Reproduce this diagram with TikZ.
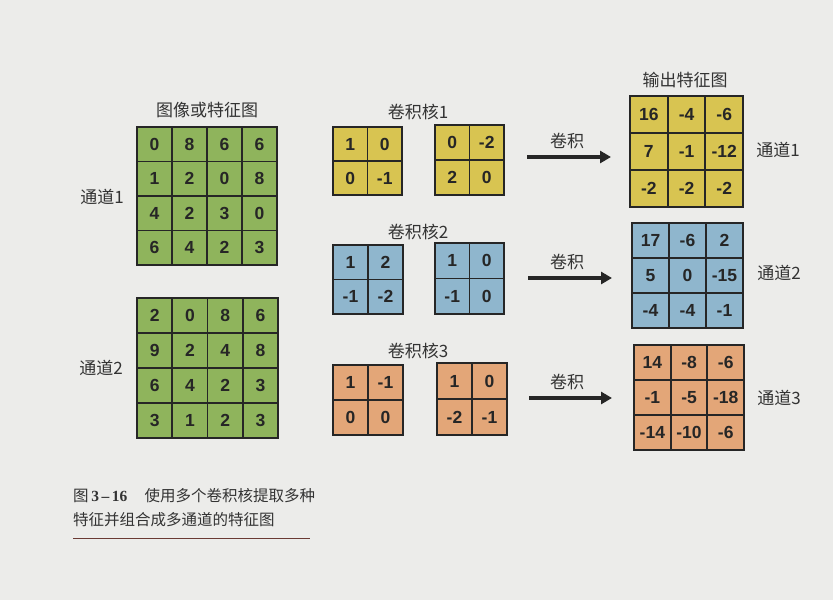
\documentclass[tikz,border=0pt]{standalone}
\usepackage{fontspec}
\setmainfont{Liberation Sans}
\newfontfamily\cjk{Noto Sans CJK SC}
\newfontfamily\capserif{Liberation Serif}
\usetikzlibrary{arrows.meta}
\definecolor{paper}{HTML}{ECECEA}
\definecolor{cgreen}{HTML}{8FB45C}
\definecolor{cyellow}{HTML}{D8C451}
\definecolor{cblue}{HTML}{8FB6CD}
\definecolor{corange}{HTML}{E3A678}
\definecolor{ink}{HTML}{262626}
\definecolor{txt}{HTML}{333333}
\definecolor{rulecol}{HTML}{6A3A34}
\tikzset{
  cell/.style={draw=ink, line width=1.9pt, inner sep=0pt, outer sep=0pt, anchor=north west,
    font=\fontsize{17.5}{17.5}\selectfont\bfseries, text=ink},
  lab/.style={font=\cjk\fontsize{17}{18}\selectfont, text=txt, inner sep=0pt},
  captext/.style={font=\cjk\fontsize{15.5}{18}\selectfont, text=txt, inner sep=0pt, anchor=west},
  convarrow/.style={line width=3.4pt, draw=ink, -{Triangle[length=11pt,width=12pt]}}
}
\newcommand{\mygrid}[7]{%
  \foreach \row [count=\i] in {#7} {
    \foreach \v [count=\j] in \row {
      \node[cell, fill=#6, minimum width=#4pt, minimum height=#5pt] (#1-\i-\j)
        at ({#2+(\j-1)*#4},{#3+(\i-1)*#5}) {\v};
    }
  }
}
\begin{document}
\begin{tikzpicture}[x=1pt,y=-1pt]
\fill[paper] (0,0) rectangle (833,600);
\useasboundingbox (0,0) rectangle (833,600);

% input feature maps
\node[lab] (tin) at (207,110) {图像或特征图};
\mygrid{inA}{137}{127}{35}{34.5}{cgreen}{{0,8,6,6},{1,2,0,8},{4,2,3,0},{6,4,2,3}}
\mygrid{inB}{137}{298}{35.25}{35}{cgreen}{{2,0,8,6},{9,2,4,8},{6,4,2,3},{3,1,2,3}}
\node[lab] (lin1) at (102,197) {通道1};
\node[lab] (lin2) at (101,368) {通道2};

% kernels
\node[lab] (tk1) at (418,112) {卷积核1};
\mygrid{kAa}{333}{127}{34.5}{34}{cyellow}{{1,0},{0,-1}}
\mygrid{kAb}{435}{125}{34.5}{35}{cyellow}{{0,-2},{2,0}}
\node[lab] (tk2) at (418,232) {卷积核2};
\mygrid{kBa}{333}{245}{35}{34.5}{cblue}{{1,2},{-1,-2}}
\mygrid{kBb}{435}{243}{34.5}{35.5}{cblue}{{1,0},{-1,0}}
\node[lab] (tk3) at (418,351) {卷积核3};
\mygrid{kCa}{333}{365}{35}{35}{corange}{{1,-1},{0,0}}
\mygrid{kCb}{437}{363}{35}{36}{corange}{{1,0},{-2,-1}}

% arrows
\coordinate (a1s) at (527,157); \coordinate (a1e) at (611,157);
\coordinate (a2s) at (528,278); \coordinate (a2e) at (612,278);
\coordinate (a3s) at (529,398); \coordinate (a3e) at (612,398);
\draw[convarrow] (a1s) -- (a1e);
\draw[convarrow] (a2s) -- (a2e);
\draw[convarrow] (a3s) -- (a3e);
\node[lab] (c1) at (567,141) {卷积};
\node[lab] (c2) at (567,262) {卷积};
\node[lab] (c3) at (567,382) {卷积};

% outputs
\node[lab] (tout) at (685,80) {输出特征图};
\mygrid{oA}{630}{96}{37.7}{37}{cyellow}{{16,-4,-6},{7,-1,-12},{-2,-2,-2}}
\mygrid{oB}{632}{223}{37}{35}{cblue}{{17,-6,2},{5,0,-15},{-4,-4,-1}}
\mygrid{oC}{634}{345}{36.7}{35}{corange}{{14,-8,-6},{-1,-5,-18},{-14,-10,-6}}
\node[lab] (lo1) at (778,150) {通道1};
\node[lab] (lo2) at (779,273) {通道2};
\node[lab] (lo3) at (779,398) {通道3};

% caption
\node[captext] (cap1) at (73,496) {图\,{\capserif\bfseries 3\,–\,16}\hspace{1.1em}使用多个卷积核提取多种};
\node[captext] (cap2) at (73,520) {特征并组合成多通道的特征图};
\coordinate (rs) at (73,538); \coordinate (re) at (310,538);
\draw[rulecol, line width=0.8pt] (rs) -- (re);
\end{tikzpicture}
\end{document}
